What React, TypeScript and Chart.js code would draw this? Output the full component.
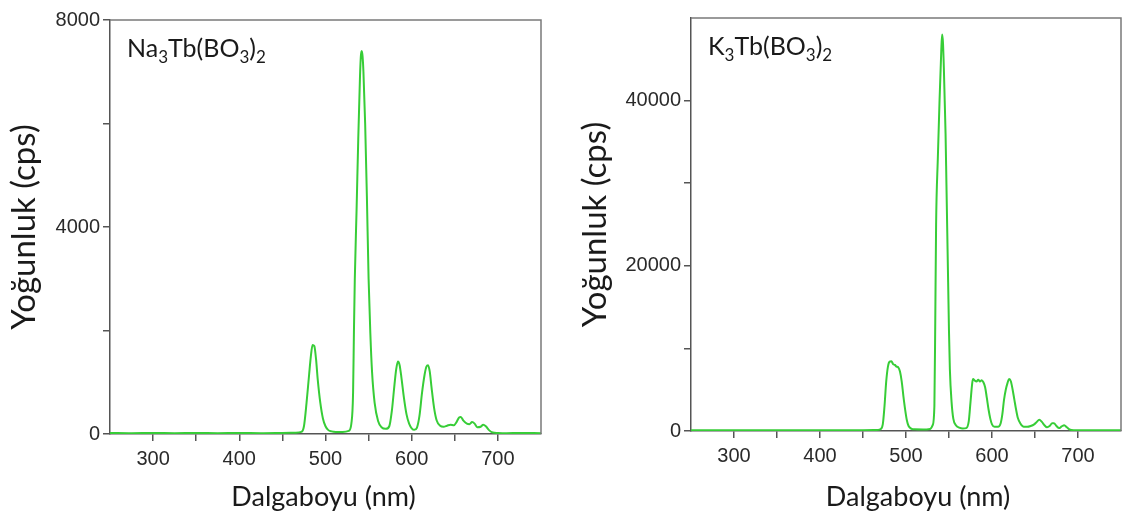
import React, { useEffect, useRef } from "react";
import { Chart, registerables } from "chart.js";

Chart.register(...registerables);

// ---------- DATA ----------
const xTickLabels = [300, 400, 500, 600, 700];

const leftYTickLabels = [0, 4000, 8000];
const rightYTickLabels = [0, 20000, 40000];

const leftSampleName: [string, boolean][] = [["Na", false], ["3", true], ["Tb(BO", false], ["3", true], [")", false], ["2", true]];
const rightSampleName: [string, boolean][] = [["K", false], ["3", true], ["Tb(BO", false], ["3", true], [")", false], ["2", true]];

const xTitle = "Dalgaboyu (nm)";
const yTitle = "Yoğunluk (cps)";

const leftWavelengths = [
  250, 275, 300, 325, 350, 375, 400, 425, 450, 465, 472, 475, 478, 481, 483, 485, 487, 489, 491, 494, 497, 500, 503, 507,
  512, 520, 527, 530, 532, 533, 534, 536, 538, 540, 541, 542, 543, 544, 546, 548, 550, 552, 554, 557, 561, 565, 570, 574,
  577, 580, 582, 584, 586, 588, 591, 594, 597, 600, 603, 606, 609, 612, 615, 617, 619, 621, 623, 626, 629, 633, 637, 641,
  645, 649, 652, 655, 657, 660, 664, 667, 670, 673, 676, 680, 683, 686, 690, 694, 700, 710, 725, 750,
];
const leftIntensity = [
  20, 15, 20, 15, 20, 15, 20, 15, 20, 25, 40, 150, 600, 1150, 1500, 1720, 1700, 1450, 1050, 600, 300, 150, 80, 50,
  40, 40, 60, 200, 800, 2000, 3000, 4300, 5700, 6900, 7300, 7400, 7300, 7000, 6000, 4600, 3000, 1950, 1200, 600, 250, 130, 100, 150,
  450, 950, 1250, 1400, 1330, 1100, 700, 380, 200, 110, 80, 120, 350, 800, 1150, 1300, 1330, 1200, 900, 500, 260, 160, 140, 160,
  180, 170, 230, 320, 330, 260, 200, 190, 230, 200, 130, 140, 180, 150, 70, 30, 20, 15, 20, 15,
];

const rightWavelengths = [
  250, 300, 350, 400, 450, 465, 470, 473, 475, 477, 479, 481, 483, 485, 487, 489, 491, 493, 495, 497, 499, 501, 503, 506,
  510, 520, 528, 531, 533, 534, 535, 537, 539, 541, 542, 543, 544, 545, 546, 547, 548, 549, 550, 551, 553, 555, 558, 562,
  566, 570, 573, 575, 577, 578, 580, 582, 584, 586, 588, 590, 592, 594, 596, 598, 600, 603, 607, 610, 612, 614, 616, 618,
  620, 622, 624, 626, 628, 630, 633, 637, 641, 645, 649, 652, 655, 658, 661, 664, 667, 670, 672, 675, 678, 681, 684, 687,
  690, 695, 700, 720, 750,
];
const rightIntensity = [
  100, 100, 100, 100, 100, 120, 200, 800, 3000, 6000, 7800, 8400, 8450, 8100, 8000, 7800, 7700, 7200, 6000, 4200, 2600, 1300, 600, 300,
  200, 180, 250, 700, 3000, 13000, 25000, 33000, 40000, 46000, 48000, 47000, 44000, 40000, 36000, 30000, 24000, 18000, 12000, 7500, 3500, 1500, 700, 400,
  300, 350, 1200, 3500, 5800, 6300, 6100, 6000, 6200, 6000, 6150, 5900, 5300, 4000, 2600, 1500, 800, 500, 500, 900, 2000, 3800, 5000, 5800,
  6300, 6000, 5000, 3800, 2600, 1600, 900, 500, 500, 600, 800, 1100, 1350, 1100, 700, 450, 600, 950, 950, 600, 350, 550, 700, 450,
  200, 100, 100, 80, 80,
];

// ---------- STYLE ----------
const TITLE_FONT = "Lato, 'Open Sans', sans-serif";
const TICK_FONT = "'Liberation Sans', Arial, sans-serif";
const LINE_COLOR = "rgb(55, 205, 55)";
const AXIS_COLOR = "#555555";
const BOX_COLOR = "#7a7a7a";

const framePlugin = {
  id: "frameAndName",
  afterDraw(chart: any, _args: any, opts: any) {
    const { ctx, chartArea } = chart;
    ctx.save();
    ctx.strokeStyle = BOX_COLOR;
    ctx.lineWidth = 1.5;
    ctx.beginPath();
    ctx.moveTo(chartArea.left, chartArea.top);
    ctx.lineTo(chartArea.right, chartArea.top);
    ctx.lineTo(chartArea.right, chartArea.bottom);
    ctx.stroke();

    // sample name with subscripts
    let x = chartArea.left + opts.dx;
    const y = chartArea.top + opts.dy;
    ctx.fillStyle = "#1a1a1a";
    ctx.textBaseline = "alphabetic";
    ctx.textAlign = "left";
    for (const [txt, sub] of opts.parts as [string, boolean][]) {
      ctx.font = sub ? `${opts.subSize}px ${TITLE_FONT}` : `${opts.size}px ${TITLE_FONT}`;
      ctx.fillText(txt, x, sub ? y + opts.subShift : y);
      x += ctx.measureText(txt).width;
    }

    // x axis title
    ctx.font = `27px ${TITLE_FONT}`;
    ctx.textAlign = "center";
    ctx.textBaseline = "middle";
    ctx.fillText(opts.xTitle, (chartArea.left + chartArea.right) / 2 + opts.xTitleShift, opts.xTitleY);
    ctx.restore();
  },
};

type Props = {
  wavelengths: number[];
  intensity: number[];
  yMax: number;
  yStep: number;
  yLabels: number[];
  name: [string, boolean][];
  yAxisWidth: number;
  xAxisHeight: number;
  padTop: number;
  padRight: number;
  yTitlePad: number;
  xTitleShift: number;
  width: number;
  height: number;
};

function Spectrum(p: Props) {
  const ref = useRef<HTMLCanvasElement | null>(null);
  useEffect(() => {
    if (!ref.current) return;
    const data = p.wavelengths.map((w, i) => ({ x: w, y: p.intensity[i] }));
    const chart = new Chart(ref.current, {
      type: "line",
      data: {
        datasets: [
          {
            data,
            borderColor: LINE_COLOR,
            borderWidth: 2,
            pointRadius: 0,
            fill: false,
            cubicInterpolationMode: "monotone",
          },
        ],
      },
      options: {
        responsive: false,
        animation: false,
        events: [],
        layout: { padding: { top: p.padTop, right: p.padRight, left: 0, bottom: 0 } },
        plugins: {
          legend: { display: false },
          tooltip: { enabled: false },
          frameAndName: {
            parts: p.name,
            dx: 17,
            dy: 37,
            size: 25,
            subSize: 17,
            subShift: 6,
            xTitle,
            xTitleShift: p.xTitleShift,
            xTitleY: 497,
          },
        } as any,
        scales: {
          x: {
            type: "linear",
            min: 250,
            max: 750,
            afterFit: (s: any) => {
              s.height = p.xAxisHeight;
              s.paddingLeft = 0;
              s.paddingRight = 0;
            },
            border: { display: true, color: AXIS_COLOR, width: 1.5 },
            grid: {
              drawOnChartArea: false,
              drawTicks: true,
              tickLength: 7,
              lineWidth: 1.5,
              color: (c: any) => (c.tick && (c.tick.value === 250 || c.tick.value === 750) ? "rgba(0,0,0,0)" : AXIS_COLOR),
            },
            ticks: {
              stepSize: 50,
              autoSkip: false,
              maxRotation: 0,
              padding: 6,
              color: "#2a2a2a",
              font: { family: TICK_FONT, size: 20 },
              callback: (v: any) => (xTickLabels.includes(Number(v)) ? String(v) : ""),
            },
            title: { display: false },
          },
          y: {
            type: "linear",
            min: 0,
            max: p.yMax,
            afterFit: (s: any) => {
              s.width = p.yAxisWidth;
            },
            border: { display: true, color: AXIS_COLOR, width: 1.5 },
            grid: {
              drawOnChartArea: false,
              drawTicks: true,
              tickLength: 7,
              lineWidth: 1.5,
              color: (c: any) => (c.tick && c.tick.value === 50000 ? "rgba(0,0,0,0)" : AXIS_COLOR),
            },
            ticks: {
              stepSize: p.yStep,
              autoSkip: false,
              padding: 3,
              color: "#2a2a2a",
              font: { family: TICK_FONT, size: 20 },
              callback: (v: any) => (p.yLabels.includes(Number(v)) ? String(v) : ""),
            },
            title: {
              display: true,
              text: yTitle,
              color: "#1a1a1a",
              font: { family: TITLE_FONT, size: 33 },
              padding: { top: p.yTitlePad, bottom: 0 },
            },
          },
        },
      },
      plugins: [framePlugin],
    });
    return () => chart.destroy();
  }, []);
  return <canvas ref={ref} width={p.width} height={p.height} style={{ display: "block" }} />;
}

export default function App() {
  return (
    <div style={{ position: "fixed", left: 0, top: 0, width: 1122, height: 528, background: "#fff", overflow: "hidden" }}>
      <div style={{ position: "absolute", left: 0, top: 0 }}>
        <Spectrum
          wavelengths={leftWavelengths}
          intensity={leftIntensity}
          yMax={8000}
          yStep={2000}
          yLabels={leftYTickLabels}
          name={leftSampleName}
          yAxisWidth={110}
          xAxisHeight={94}
          padTop={20}
          padRight={20}
          yTitlePad={5}
          xTitleShift={-2}
          width={561}
          height={528}
        />
      </div>
      <div style={{ position: "absolute", left: 561, top: 0 }}>
        <Spectrum
          wavelengths={rightWavelengths}
          intensity={rightIntensity}
          yMax={50000}
          yStep={10000}
          yLabels={rightYTickLabels}
          name={rightSampleName}
          yAxisWidth={130}
          xAxisHeight={97}
          padTop={18}
          padRight={1}
          yTitlePad={15}
          xTitleShift={12}
          width={561}
          height={528}
        />
      </div>
    </div>
  );
}
